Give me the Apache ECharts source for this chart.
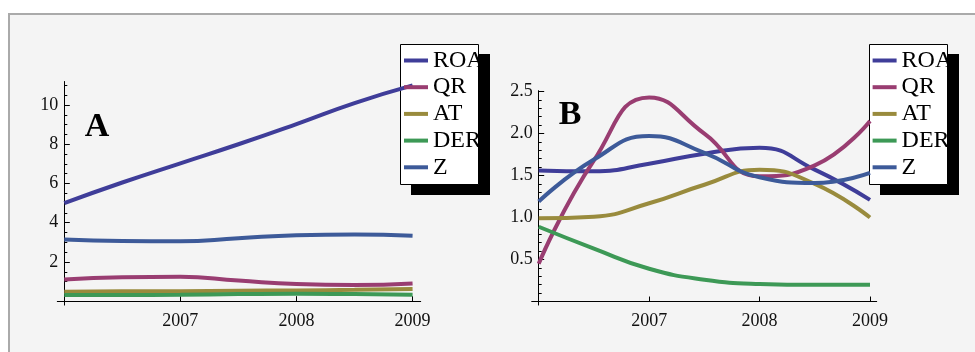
<!DOCTYPE html>
<html>
<head>
<meta charset="utf-8">
<style>
  html, body { margin: 0; padding: 0; background: #ffffff; }
  #chart { width: 975px; height: 352px; }
</style>
<script src="https://cdn.jsdelivr.net/npm/echarts@6/dist/echarts.min.js"></script>
</head>
<body>
<div id="chart"></div>
<script>
// Sample years (half-year readings of the annual ratio curves)
const years = [2006, 2006.5, 2007, 2007.5, 2008, 2008.5, 2009];
const seriesNames = ['ROA', 'QR', 'AT', 'DER', 'Z'];

// Panel A ratios
const roaA = [5.0, 6.05, 7.03, 8.0, 9.03, 10.1, 11.0];
const qrA  = [1.11, 1.22, 1.24, 1.05, 0.87, 0.82, 0.9];
const atA  = [0.48, 0.5, 0.51, 0.53, 0.55, 0.58, 0.62];
const derA = [0.32, 0.32, 0.33, 0.36, 0.38, 0.36, 0.33];
const zA   = [3.15, 3.07, 3.05, 3.21, 3.36, 3.4, 3.34];

// Panel B ratios
const roaB = [1.56, 1.55, 1.64, 1.76, 1.83, 1.57, 1.21];
const qrB  = [0.45, 1.68, 2.43, 2.0, 1.49, 1.62, 2.15];
const atB  = [0.99, 1.01, 1.17, 1.39, 1.57, 1.4, 1.0];
const derB = [0.89, 0.63, 0.39, 0.26, 0.21, 0.2, 0.2];
const zB   = [1.19, 1.69, 1.97, 1.77, 1.48, 1.41, 1.53];

// Tick labels
const xTicks = [2007, 2008, 2009];
const yTicksA = [2, 4, 6, 8, 10];
const yTicksB = [0.5, 1.0, 1.5, 2.0, 2.5];

const colors = ['#3f3d99', '#993d71', '#998b3d', '#3d9956', '#3d5a99'];
const serif = '"Liberation Serif", "Times New Roman", serif';

function minorValues(step, upTo, majors) {
  const out = [];
  for (let i = 1; i * step <= upTo + 1e-9; i++) {
    const v = Math.round(i * step * 1000) / 1000;
    if (!majors.some(m => Math.abs(m - v) < 1e-9)) out.push(v);
  }
  return out;
}

function xAxisFor(gridIndex, min, max) {
  return {
    type: 'value', gridIndex, min, max,
    axisLine: { show: true, onZero: true, lineStyle: { color: '#000', width: 1 } },
    axisTick: { show: true, inside: true, length: 5, customValues: xTicks, lineStyle: { color: '#000' } },
    axisLabel: { show: true, customValues: xTicks, margin: 7, color: '#111',
                 fontFamily: serif, fontSize: 18, formatter: v => String(v) },
    splitLine: { show: false }
  };
}

function yAxisMajor(gridIndex, min, max, ticks, fmt) {
  return {
    type: 'value', gridIndex, min, max, position: 'left', offset: -7,
    axisLine: { show: true, lineStyle: { color: '#000', width: 1 } },
    axisTick: { show: true, inside: true, length: 5.5, customValues: ticks, lineStyle: { color: '#000' } },
    axisLabel: { show: true, customValues: ticks, margin: 6, color: '#111',
                 fontFamily: serif, fontSize: 18, formatter: fmt },
    splitLine: { show: false }
  };
}

function yAxisMinor(gridIndex, min, max, minors) {
  return {
    type: 'value', gridIndex, min, max, position: 'left', offset: -7,
    axisLine: { show: false },
    axisTick: { show: true, inside: true, length: 3, customValues: minors, lineStyle: { color: '#000' } },
    axisLabel: { show: false },
    splitLine: { show: false }
  };
}

function lineSeries(name, values, xIdx, yIdx, color) {
  return {
    name, type: 'line', xAxisIndex: xIdx, yAxisIndex: yIdx,
    data: years.map((y, i) => [y, values[i]]),
    smooth: 0.5, showSymbol: false, symbol: 'none',
    lineStyle: { width: 4, color },
    itemStyle: { color },
    emphasis: { disabled: true },
    animation: false
  };
}

function legendFor(left) {
  return {
    show: true, orient: 'vertical', left, top: 48.5,
    data: seriesNames, selectedMode: false,
    icon: 'rect', itemWidth: 24, itemHeight: 4, itemGap: 2.7,
    padding: 0, backgroundColor: 'transparent',
    textStyle: { fontFamily: serif, fontSize: 24, color: '#000', lineHeight: 24 },
    z: 5
  };
}

function legendBox(x, y) {
  return [
    { type: 'rect', z: 3, shape: { x: x + 10.5, y: y + 9.5, width: 79, height: 141 },
      style: { fill: '#000' } },
    { type: 'rect', z: 3, shape: { x: x, y: y, width: 78, height: 140 },
      style: { fill: '#fff', stroke: '#000', lineWidth: 1 } }
  ];
}

const chart = echarts.init(document.getElementById('chart'), null, { renderer: 'canvas' });

const option = {
  animation: false,
  backgroundColor: '#ffffff',
  color: colors,
  grid: [
    { left: 57.3, top: 81.5, width: 363.4, height: 223.6 },
    { left: 531.7, top: 90.66, width: 345, height: 214.4 }
  ],
  xAxis: [
    xAxisFor(0, 2005.94, 2009.07),
    xAxisFor(1, 2005.9366, 2009.0607)
  ],
  yAxis: [
    yAxisMajor(0, -0.2, 11.2, yTicksA, v => String(v)),
    yAxisMinor(0, -0.2, 11.2, minorValues(0.5, 11, yTicksA)),
    yAxisMajor(1, -0.042, 2.51, yTicksB, v => v.toFixed(1)),
    yAxisMinor(1, -0.042, 2.51, minorValues(0.1, 2.5, yTicksB))
  ],
  legend: [legendFor(404), legendFor(872.6)],
  series: [
    lineSeries('ROA', roaA, 0, 0, colors[0]),
    lineSeries('QR', qrA, 0, 0, colors[1]),
    lineSeries('AT', atA, 0, 0, colors[2]),
    lineSeries('DER', derA, 0, 0, colors[3]),
    lineSeries('Z', zA, 0, 0, colors[4]),
    lineSeries('ROA', roaB, 1, 2, colors[0]),
    lineSeries('QR', qrB, 1, 2, colors[1]),
    lineSeries('AT', atB, 1, 2, colors[2]),
    lineSeries('DER', derB, 1, 2, colors[3]),
    lineSeries('Z', zB, 1, 2, colors[4])
  ],
  graphic: [
    { type: 'rect', z: -10, silent: true,
      shape: { x: 9, y: 14, width: 1000, height: 400 },
      style: { fill: '#f4f4f4', stroke: '#aaaaaa', lineWidth: 2 } },
    ...legendBox(400.5, 44.5),
    ...legendBox(869.5, 44.5),
    { type: 'text', z: 3, x: 97, y: 127,
      style: { text: 'A', font: 'bold 34px ' + serif, fill: '#000',
               textAlign: 'center', textVerticalAlign: 'middle' } },
    { type: 'text', z: 3, x: 570, y: 115,
      style: { text: 'B', font: 'bold 34px ' + serif, fill: '#000',
               textAlign: 'center', textVerticalAlign: 'middle' } }
  ]
};

chart.setOption(option);
</script>
</body>
</html>
